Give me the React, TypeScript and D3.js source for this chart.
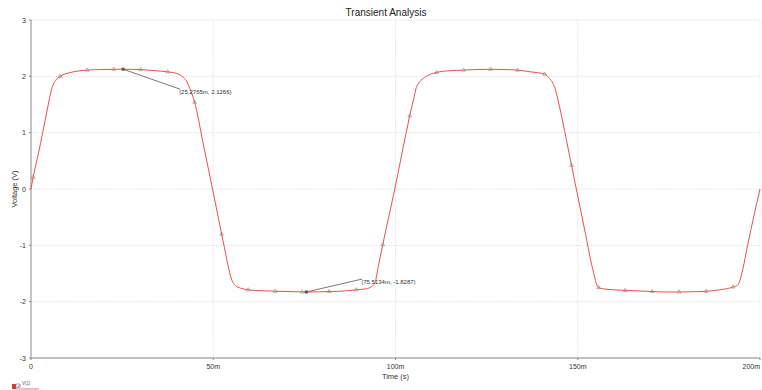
import React from "react";
import * as d3 from "d3";

const title = "Transient Analysis";
const xLabel = "Time (s)";
const yLabel = "Voltage (V)";
const legendLabel = "V(1)";

const xTicks = [0, 50, 100, 150, 200];
const xTickLabels = ["0", "50m", "100m", "150m", "200m"];
const yTicks = [-3, -2, -1, 0, 1, 2, 3];

// marker samples (time in ms, voltage)
const markerTimes = [0.6, 8.0, 15.4, 22.7, 30.1, 37.5, 44.9, 52.3, 59.6, 67.0, 74.4, 81.8, 89.2, 96.5, 103.9, 111.3, 118.7, 126.1, 133.5, 140.9, 148.3, 155.7, 163.0, 170.4, 177.8, 185.2, 192.6];
const markerValues = [0.21, 2.0, 2.11, 2.125, 2.12, 2.08, 1.54, -0.8, -1.79, -1.815, -1.826, -1.82, -1.79, -0.99, 1.3, 2.07, 2.11, 2.125, 2.11, 2.04, 0.42, -1.75, -1.8, -1.82, -1.828, -1.815, -1.74];

// additional shape samples
const shapeTimes = [0, 2, 3.2, 4.5, 5.3, 5.9, 6.8, 11, 19, 34, 40, 41.8, 42.8, 43.6, 47.2, 49.8, 53.0, 54.0, 55.0, 56.0, 57.5, 63, 86, 92, 93.5, 94.4, 95.2, 99.8, 102.9, 105, 105.7, 106.6, 108, 115, 122, 130, 137, 142, 143.0, 143.8, 145, 146.8, 149.6, 152.2, 153.6, 154.4, 155.0, 158, 174, 181, 189, 193.8, 194.5, 195.3, 196.6, 200];
const shapeValues = [0, 0.62, 1.0, 1.42, 1.68, 1.82, 1.93, 2.07, 2.12, 2.1, 2.05, 1.98, 1.9, 1.78, 0.82, 0, -1.02, -1.34, -1.6, -1.71, -1.76, -1.805, -1.81, -1.77, -1.73, -1.66, -1.4, 0, 0.99, 1.6, 1.8, 1.9, 1.98, 2.1, 2.12, 2.12, 2.08, 1.98, 1.9, 1.78, 1.46, 0.9, 0, -0.82, -1.28, -1.5, -1.66, -1.78, -1.828, -1.825, -1.79, -1.71, -1.62, -1.42, -1.0, 0];

// cursor readouts
const cursorTimes = [25.2765, 75.5134];
const cursorValues = [2.1266, -1.8287];
const cursorLabels = ["(25.2765m, 2.1266)", "(75.5134m, -1.8287)"];

const W = 762;
const H = 390;
const left = 31;
const right = 760;
const top = 20;
const bottom = 358;
const font = "Liberation Sans, Arial, sans-serif";

export default function App() {
  const x = d3.scaleLinear().domain([0, 200]).range([left, right]);
  const y = d3.scaleLinear().domain([-3, 3]).range([bottom, top]);

  const pts: [number, number][] = [];
  markerTimes.forEach((t, i) => pts.push([t, markerValues[i]]));
  shapeTimes.forEach((t, i) => pts.push([t, shapeValues[i]]));
  cursorTimes.forEach((t, i) => pts.push([t, cursorValues[i]]));
  pts.sort((a, b) => a[0] - b[0]);

  const line = d3
    .line<[number, number]>()
    .x((d) => x(d[0]))
    .y((d) => y(d[1]))
    .curve(d3.curveMonotoneX);

  const tri = d3.symbol().type(d3.symbolTriangle).size(6)() as string;

  const labelOffsets = [
    [57, 20],
    [56, -13],
  ];

  return (
    <svg
      width={W}
      height={H}
      style={{ position: "absolute", left: 0, top: 0, background: "#fff" }}
      fontFamily={font}
    >
      <rect x={0} y={0} width={W} height={H} fill="#fff" />
      <text x={386} y={16} fontSize={10} textAnchor="middle" fill="#222">
        {title}
      </text>
      {/* grid */}
      {yTicks.map((v) => (
        <line
          key={"gy" + v}
          x1={left}
          x2={right}
          y1={y(v)}
          y2={y(v)}
          stroke="#cfcfcf"
          strokeWidth={0.8}
          strokeDasharray="1,1.5"
        />
      ))}
      {xTicks.slice(1).map((t) => (
        <line
          key={"gx" + t}
          x1={x(t)}
          x2={x(t)}
          y1={top}
          y2={bottom}
          stroke="#cfcfcf"
          strokeWidth={0.8}
          strokeDasharray="1,1.5"
        />
      ))}
      {/* axes */}
      <line x1={left} x2={left} y1={top} y2={bottom} stroke="#8a8a8a" strokeWidth={1} />
      <line x1={left} x2={right} y1={bottom} y2={bottom} stroke="#8a8a8a" strokeWidth={1} />
      {yTicks.map((v) => (
        <g key={"ty" + v}>
          <line x1={left - 2} x2={left} y1={y(v)} y2={y(v)} stroke="#8a8a8a" />
          <text x={left - 5} y={y(v) + 2.5} fontSize={7} textAnchor="end" fill="#333">
            {v}
          </text>
        </g>
      ))}
      {xTicks.map((t, i) => (
        <g key={"tx" + t}>
          <line x1={x(t)} x2={x(t)} y1={bottom} y2={bottom + 2} stroke="#8a8a8a" />
          <text
            x={x(t)}
            y={bottom + 11}
            fontSize={7}
            textAnchor={i === xTicks.length - 1 ? "end" : "middle"}
            fill="#333"
          >
            {xTickLabels[i]}
          </text>
        </g>
      ))}
      <text x={(left + right) / 2} y={379} fontSize={7.5} textAnchor="middle" fill="#333">
        {xLabel}
      </text>
      <text
        transform={`translate(17,${(top + bottom) / 2}) rotate(-90)`}
        fontSize={7.5}
        textAnchor="middle"
        fill="#333"
      >
        {yLabel}
      </text>
      {/* curve */}
      <path d={line(pts) || ""} fill="none" stroke="#e8504f" strokeWidth={1} />
      {markerTimes.map((t, i) => (
        <path
          key={"m" + i}
          d={tri}
          transform={`translate(${x(t)},${y(markerValues[i])})`}
          fill="none"
          stroke="#9a7a7a"
          strokeWidth={0.6}
        />
      ))}
      {/* cursors */}
      {cursorTimes.map((t, i) => {
        const cx = x(t);
        const cy = y(cursorValues[i]);
        const lx = cx + labelOffsets[i][0];
        const ly = cy + labelOffsets[i][1];
        return (
          <g key={"c" + i}>
            <line x1={cx} y1={cy} x2={lx} y2={ly} stroke="#555" strokeWidth={0.8} />
            <rect x={cx - 1.5} y={cy - 1.5} width={3} height={3} fill="#555" />
            <text x={lx - 1} y={ly + 5} fontSize={6} fill="#333">
              {cursorLabels[i]}
            </text>
          </g>
        );
      })}
      {/* legend */}
      <rect x={12} y={384} width={4} height={5} fill="#d23a3a" />
      <rect x={16} y={384} width={4} height={5} fill="#fff" stroke="#777" strokeWidth={0.6} />
      <path d="M16.8,386.5 L18,388 L19.5,384.8" fill="none" stroke="#444" strokeWidth={0.6} />
      <text x={22} y={385} fontSize={4.5} fill="#555">
        {legendLabel}
      </text>
      <line x1={21} x2={39} y1={389} y2={389} stroke="#e8504f" strokeWidth={0.8} />
    </svg>
  );
}
